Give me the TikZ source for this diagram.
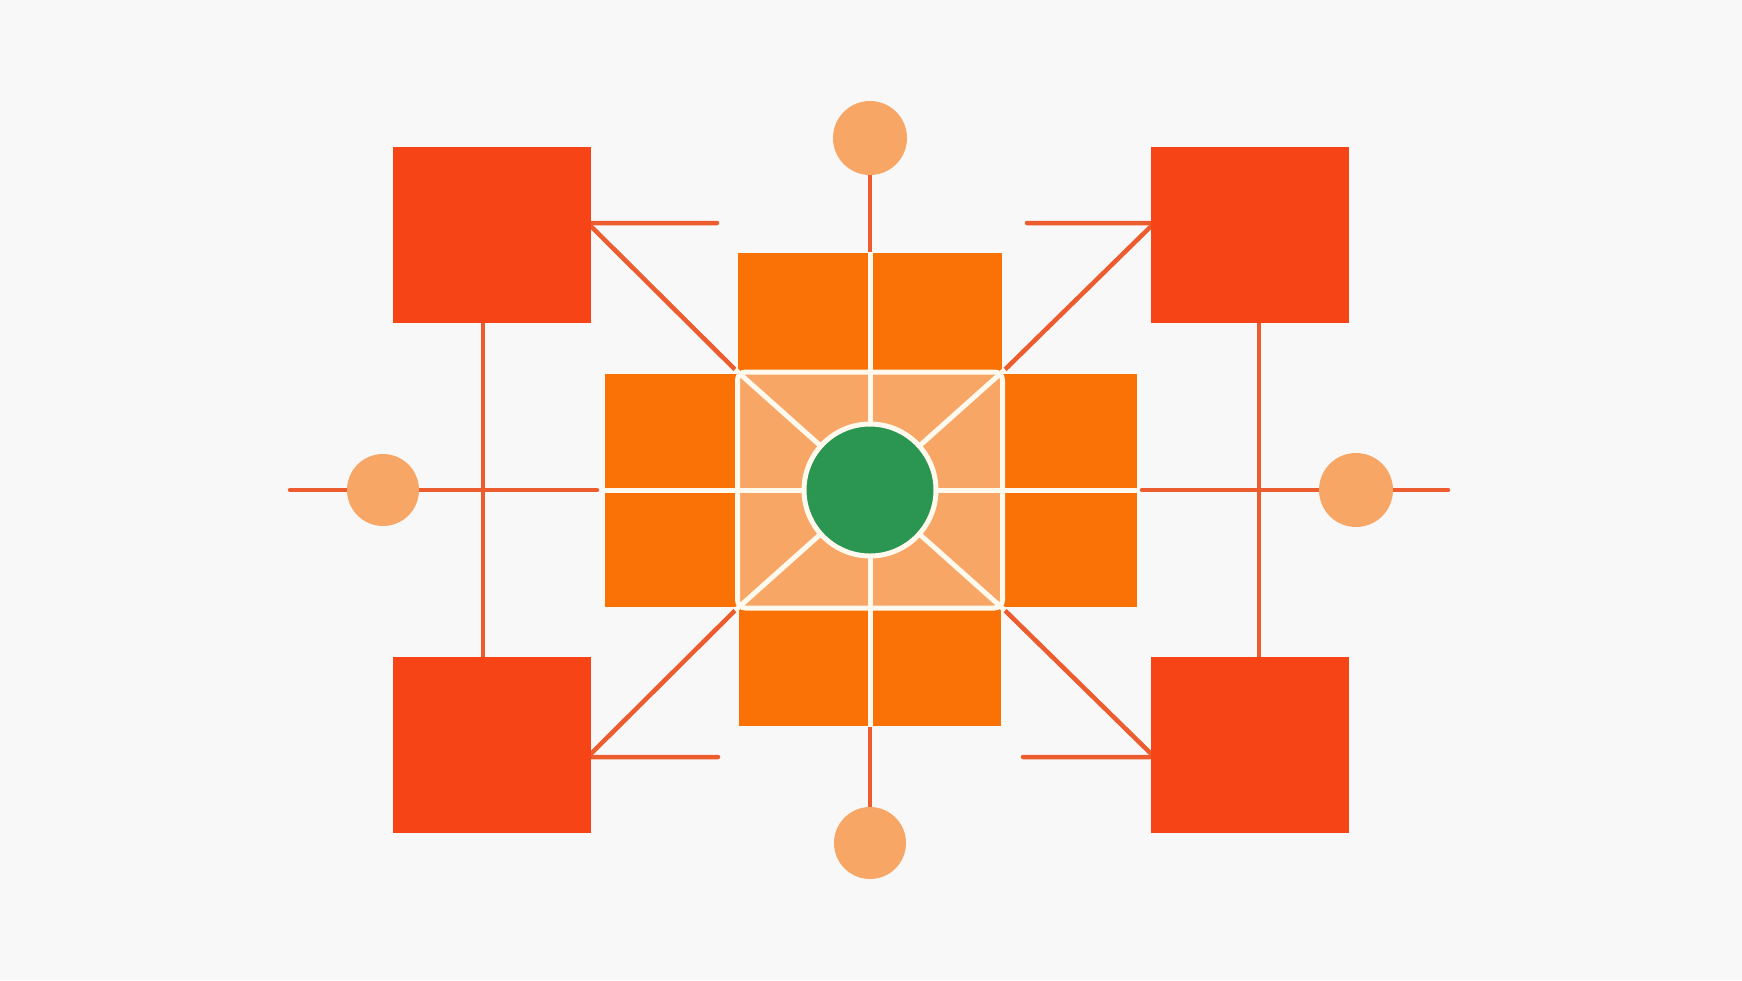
\documentclass[tikz,border=0pt]{standalone}
\usetikzlibrary{backgrounds}
\definecolor{paper}{RGB}{248,248,248}
\definecolor{tomato}{RGB}{247,68,22}
\definecolor{tangerine}{RGB}{250,114,6}
\definecolor{peach}{RGB}{248,166,102}
\definecolor{leaf}{RGB}{42,150,82}
\definecolor{wire}{RGB}{236,92,46}
\definecolor{cream}{RGB}{255,249,238}

\begin{document}
\begin{tikzpicture}
      [x = 0.1mm, y = -0.1mm,
      corner/.style= {
         fill = tomato,
         inner sep = 0pt,
         minimum width = 19.8mm,
         minimum height = 17.6mm
      },
      dot/.style= {
         fill = peach,
         circle,
         inner sep = 0pt,
         minimum size = 7.4mm
      },
      arm/.style= {
         fill = tangerine,
         inner sep = 0pt
      },
      link/.style={draw = wire, line width = 0.45mm, line cap = round},
      seam/.style={draw = cream, line width = 0.5mm}]

      \useasboundingbox (0, 0) rectangle (1742, 980);

      \node[corner] (TL) at (492, 235) {};
      \node[corner] (TR) at (1250, 235) {};
      \node[corner] (BL) at (492, 745) {};
      \node[corner] (BR) at (1250, 745) {};

      \node[dot] (tdot) at (870, 138) {};
      \node[dot, minimum size = 7.2mm] (bdot) at (870, 843) {};
      \node[dot, minimum size = 7.2mm] (ldot) at (383, 490) {};
      \node[dot] (rdot) at (1356, 490) {};

      \node[arm, minimum width = 26.4mm, minimum height = 11.9mm] (armN) at (870, 312) {};
      \node[arm, minimum width = 26.2mm, minimum height = 11.8mm] (armS) at (870, 667) {};
      \node[arm, minimum width = 13.3mm, minimum height = 23.3mm] (armW) at (671, 490) {};
      \node[arm, minimum width = 13.4mm, minimum height = 23.3mm] (armE) at (1070, 490) {};

      \coordinate (wl) at (290, 490);
      \coordinate (wr) at (597, 490);
      \coordinate (el) at (1142, 490);
      \coordinate (er) at (1448, 490);
      \coordinate (tlend) at (717, 223);
      \coordinate (trend) at (1027, 223);
      \coordinate (blend) at (718, 757);
      \coordinate (brend) at (1023, 757);

      \begin{scope}[on background layer]
         \fill[paper] (0, 0) rectangle (1742, 980);
         \draw[link] (wl) -- (wr);
         \draw[link] (el) -- (er);
         \draw[link] ([xshift = -0.9mm]TL.south) -- ([xshift = -0.9mm]BL.north);
         \draw[link] ([xshift = 0.9mm]TR.south) -- ([xshift = 0.9mm]BR.north);
         \draw[link] (tdot) -- (armN);
         \draw[link] (armS) -- (bdot);
         \draw[link] ([yshift = 1.2mm]TL.east) -- (tlend);
         \draw[link] (trend) -- ([yshift = 1.2mm]TR.west);
         \draw[link] ([yshift = -1.2mm]BL.east) -- (blend);
         \draw[link] (brend) -- ([yshift = -1.2mm]BR.west);
      \end{scope}

      \node[fill = peach, draw = cream, line width = 0.5mm, rounded corners = 0.8mm,
         inner sep = 0pt, minimum width = 26.5mm, minimum height = 23.6mm] (pad) at (870, 490) {};

      \begin{scope}[on background layer]
         \draw[link] ([yshift = 0.8mm]TL.east) -- (pad.north west);
         \draw[link] ([yshift = 0.8mm]TR.west) -- (pad.north east);
         \draw[link] ([yshift = -0.8mm]BL.east) -- (pad.south west);
         \draw[link] ([yshift = -0.8mm]BR.west) -- (pad.south east);
      \end{scope}

      \draw[seam] (armN.north) -- (armS.south);
      \draw[seam] (armW.west) -- (armE.east);
      \draw[seam] (pad.north west) -- (pad.center);
      \draw[seam] (pad.north east) -- (pad.center);
      \draw[seam] (pad.south west) -- (pad.center);
      \draw[seam] (pad.south east) -- (pad.center);

      \node[fill = leaf, draw = cream, line width = 0.5mm, circle,
         inner sep = 0pt, minimum size = 13.2mm] (hub) at (870, 490) {};

   \end{tikzpicture}
\end{document}
